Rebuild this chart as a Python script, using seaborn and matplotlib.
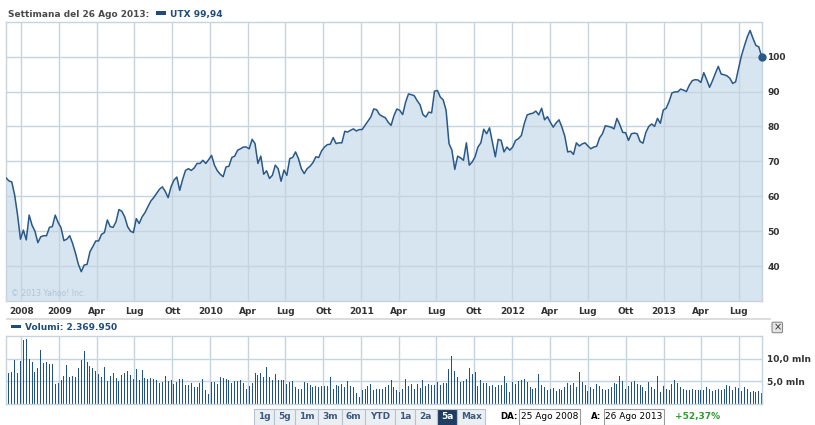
import numpy as np
import pandas as pd
import matplotlib
matplotlib.use("Agg")
import matplotlib.pyplot as plt
from matplotlib.patches import Rectangle, FancyBboxPatch
import seaborn as sns

# ---------------- data ----------------
price = [
    65.3, 64.4, 64.1, 60.3, 54.6, 47.7, 50.3, 47.5, 54.6, 51.7,
    50.0, 46.7, 48.4, 48.7, 48.7, 51.1, 51.3, 54.6, 52.5, 51.0,
    47.3, 47.7, 48.7, 46.5, 43.7, 40.5, 38.4, 40.3, 40.5, 44.1,
    45.6, 47.2, 47.2, 49.1, 49.6, 53.2, 51.3, 51.1, 52.7, 56.2,
    55.7, 54.1, 51.3, 50.0, 49.6, 53.6, 52.2, 54.1, 55.3, 57.0,
    58.6, 59.6, 60.8, 62.0, 62.7, 61.4, 59.6, 62.7, 64.6, 65.5,
    61.7, 64.8, 67.4, 67.9, 67.4,
    68.1, 69.4, 69.4, 70.3, 69.4, 70.5, 71.7, 68.9, 67.3, 66.3,
    65.6, 68.4, 68.6, 71.1, 71.5, 73.2, 73.6, 74.1, 74.1, 73.6,
    76.3, 75.1, 69.4, 71.5, 66.3, 67.3, 65.1, 66.0, 68.9, 67.9,
    64.3, 67.5, 66.0, 70.8, 71.1, 72.7, 70.8, 67.9, 66.5, 67.9,
    68.6, 69.6, 71.3, 71.1, 73.0, 74.1, 74.8, 74.9, 76.8, 75.1,
    75.3, 75.3, 78.6, 78.4, 78.9, 79.3, 78.7, 79.1, 79.1, 80.3,
    81.5, 82.7, 85.0, 84.8, 83.4, 82.9,
    82.5, 81.2, 80.3, 83.1, 85.0, 84.6, 83.4, 86.9, 89.3, 89.1,
    88.8, 87.4, 86.2, 83.4, 82.7, 84.1, 83.9, 90.1, 90.3, 88.4,
    87.6, 84.6, 75.1, 73.2, 67.7, 71.5, 71.0, 70.3, 75.3, 68.9,
    69.8, 71.3, 74.1, 75.3, 79.2, 77.9, 79.6, 75.5, 71.3, 76.3,
    76.0, 72.7, 74.1, 73.2, 74.1, 76.0, 76.5, 77.4, 80.8, 83.3,
    83.6, 83.8, 84.4, 83.3, 85.2, 81.9, 82.8, 81.2, 79.8, 81.0,
    81.9, 79.8, 77.2, 72.7, 72.9, 72.0,
    75.3, 74.4, 75.0, 75.3, 74.4, 73.6, 74.1, 74.3, 76.7, 77.9,
    80.2, 80.0, 79.8, 79.3, 82.3, 80.5, 78.3, 78.2, 76.0, 77.9,
    78.1, 77.9, 75.7, 75.2, 78.3, 80.0, 80.7, 80.0, 82.3, 80.9,
    84.7, 85.2, 87.1, 89.6, 89.9, 89.9, 90.7, 90.4, 90.0, 91.8,
    93.1, 93.4, 93.3, 92.6, 95.4, 93.4, 91.2, 93.1, 95.2, 97.2,
    95.0, 94.8, 94.5, 93.8, 92.3, 92.8, 96.6, 100.2, 103.0, 105.6,
    107.5, 105.2, 103.2, 102.8, 99.94,
]

volume_mln = [
    3.7, 6.7, 6.9, 9.7, 6.7, 9.5, 14.2, 14.4, 9.9, 9.3,
    7.0, 7.9, 11.9, 8.9, 9.2, 8.7, 8.7, 4.3, 4.5, 5.2,
    6.2, 8.5, 5.8, 6.2, 6.0, 7.8, 9.7, 11.6, 9.3, 8.4,
    7.9, 7.3, 6.6, 5.8, 8.1, 4.9, 6.1, 6.7, 5.6, 5.0,
    6.25, 6.76, 7.2, 6.25, 5.5, 7.6, 5.15, 7.35, 5.7, 5.5,
    5.7, 5.5, 5.15, 4.55, 4.8, 6.1, 4.9, 5.15, 4.25, 4.8,
    5.5, 5.5, 4.05, 4.05, 4.55, 3.7, 3.7, 4.55, 5.5, 2.95,
    2.2, 4.8, 4.8, 4.4, 6.0, 5.7, 5.5, 5.15, 4.55, 4.9,
    4.9, 5.15, 4.55, 3.3, 3.8, 4.55, 6.75, 6.25, 6.75, 5.9,
    8.2, 5.9, 5.3, 6.6, 5.15, 5.3, 5.15, 4.4, 4.8, 4.9,
    3.7, 3.25, 3.3, 4.8, 4.55, 4.2, 3.7, 3.8, 3.7, 3.8,
    3.8, 3.8, 5.9, 3.3, 4.05, 3.8, 4.25, 3.7, 5.0, 3.8,
    3.7, 2.35, 1.5, 3.1, 3.3, 3.8, 4.4, 3.1, 3.15, 3.15,
    3.3, 3.7, 4.05, 5.15, 3.7, 3.1,
    2.6, 3.3, 5.5, 3.9, 4.25, 3.3, 4.25, 3.55, 5.15, 4.0,
    4.25, 4.05, 4.05, 4.7, 4.05, 4.65, 4.65, 7.7, 10.45, 7.15,
    5.9, 4.85, 4.9, 5.5, 7.85, 6.45, 7.0, 3.8, 5.15, 4.65,
    4.55, 3.8, 4.05, 3.7, 4.05, 4.05, 6.05, 4.55, 2.45, 4.7,
    4.25, 5.0, 5.3, 5.45, 4.7, 3.6, 3.3, 3.45, 6.6, 4.2,
    3.7, 3.1, 3.3, 3.45, 2.8, 3.3, 3.1, 3.7, 4.55, 4.2,
    4.55, 3.7, 7.0, 4.7, 4.05, 2.8, 3.7, 3.3, 4.25, 4.0,
    3.3, 3.1, 3.3, 3.7, 4.55, 4.4, 6.05, 5.0, 3.3, 3.8,
    4.8, 4.9, 4.4, 4.05, 3.7, 2.8, 4.8, 3.7, 3.3, 6.05,
    2.6, 3.8, 3.3, 2.95, 4.4, 5.15, 4.55, 3.7, 3.3, 2.95,
    2.95, 3.3, 2.95, 2.95, 3.1, 2.95, 3.7, 3.3, 2.8, 3.1,
    3.3, 2.95, 3.3, 4.05, 3.8, 2.95, 3.7, 3.45, 2.8, 3.7,
    3.3, 2.6, 2.8, 2.6, 2.8, 2.37,
]

x_tick_dates = pd.date_range("2008-10-01", "2013-07-01", freq="QS")
x_tick_labels = ["2008", "2009", "Apr", "Lug", "Ott", "2010", "Apr", "Lug", "Ott",
                 "2011", "Apr", "Lug", "Ott", "2012", "Apr", "Lug", "Ott",
                 "2013", "Apr", "Lug"]
price_ticks = [40, 50, 60, 70, 80, 90, 100]
vol_ticks = [5, 10]
vol_tick_labels = ["5,0 mln", "10,0 mln"]
range_buttons = ["1g", "5g", "1m", "3m", "6m", "YTD", "1a", "2a", "5a", "Max"]
selected_button = "5a"

start_date = pd.Timestamp("2008-08-25")
end_date = pd.Timestamp("2013-08-26")
price_dates = pd.date_range(end=end_date, periods=len(price), freq="7D")
vol_dates = pd.date_range(end=end_date, periods=len(volume_mln), freq="7D")
df_price = pd.DataFrame({"date": price_dates, "price": price})
df_vol = pd.DataFrame({"date": vol_dates, "volume": volume_mln})

# ---------------- style ----------------
sns.set_style("white")
plt.rcParams["font.family"] = ["DejaVu Sans"]

LINE = "#28598a"
BAR = "#1f5288"
FILL = "#d6e5f0"
GRID = "#c6d4df"
TXT = "#333333"
NAVY = "#1f4c7a"
FS = 6.5

W, H = 815, 425
fig = plt.figure(figsize=(W / 100, H / 100), dpi=100)

AX_L, AX_R = 6, 761.7


def rect(l, t, r, b):
    return [l / W, 1 - b / H, (r - l) / W, (b - t) / H]


ax = fig.add_axes(rect(AX_L, 21.7, AX_R, 301))
axv = fig.add_axes(rect(AX_L, 336, AX_R, 403.5))

# ---- price panel ----
ax.fill_between(df_price["date"], df_price["price"], 30, color=FILL, lw=0, zorder=1)
sns.lineplot(data=df_price, x="date", y="price", ax=ax, color=LINE, lw=1.1, zorder=3)
ax.plot(df_price["date"].iloc[-1], df_price["price"].iloc[-1], "o", ms=5,
        color=LINE, zorder=4, clip_on=False)
ax.set_xlim(start_date, end_date)
ax.set_ylim(30, 110)
ax.set_xticks(x_tick_dates)
ax.set_xticklabels(x_tick_labels)
ax.set_yticks(price_ticks)
ax.yaxis.tick_right()
ax.set_axisbelow(False)
ax.grid(True, color=GRID, lw=1)
ax.set_xlabel("")
ax.set_ylabel("")
ax.tick_params(axis="x", length=0, labelsize=FS, labelcolor=TXT, pad=4)
ax.tick_params(axis="y", length=0, labelsize=FS, labelcolor=TXT, pad=4)
for s in ax.spines.values():
    s.set_color(GRID)
    s.set_linewidth(1)
for lbl in ax.get_xticklabels() + ax.get_yticklabels():
    lbl.set_fontweight("bold")

# ---- volume panel (1-px bars) ----
one_px_days = (end_date - start_date).days / (AX_R - AX_L)
axv.bar(df_vol["date"], df_vol["volume"], width=one_px_days, color=BAR, lw=0,
        zorder=2, antialiased=False, snap=True)
axv.set_xlim(start_date, end_date)
axv.set_ylim(0, 15)
axv.set_xticks(x_tick_dates)
axv.set_xticklabels([])
axv.set_yticks(vol_ticks)
axv.set_yticklabels(vol_tick_labels)
axv.yaxis.tick_right()
axv.set_axisbelow(True)
axv.grid(True, color=GRID, lw=1)
axv.tick_params(axis="both", length=0, labelsize=FS, labelcolor=TXT, pad=4)
for s in axv.spines.values():
    s.set_color(GRID)
    s.set_linewidth(1)
for lbl in axv.get_yticklabels():
    lbl.set_fontweight("bold")

# ---- overlay (headers, controls) ----
ov = fig.add_axes([0, 0, 1, 1])
ov.set_xlim(0, W)
ov.set_ylim(H, 0)
ov.axis("off")
ov.patch.set_alpha(0)

ov.text(8, 14, "Settimana del 26 Ago 2013:", fontsize=FS, fontweight="bold",
        color="#4a4a4a", va="center", ha="left")
ov.add_patch(Rectangle((155.7, 11), 10, 3.6, color=NAVY, lw=0))
ov.text(170, 14, "UTX 99,94", fontsize=FS, fontweight="bold", color=NAVY,
        va="center", ha="left")

ov.text(11, 294, "\u00a9 2013 Yahoo! Inc.", fontsize=5.6, color="#b3c4d3",
        va="center", ha="left")

ov.add_patch(Rectangle((6, 318.3), 765, 1.8, color="#dddddd", lw=0))
ov.add_patch(Rectangle((11, 324.7), 10, 3.6, color=NAVY, lw=0))
ov.text(25, 327.5, "Volumi: 2.369.950", fontsize=FS, fontweight="bold",
        color=NAVY, va="center", ha="left")

ov.add_patch(FancyBboxPatch((772, 322.2), 10.5, 10.5, boxstyle="round,pad=0,rounding_size=1.2",
                            fc="#e4e4e4", ec="#8a8a8a", lw=0.8))
ov.text(777.3, 327.3, "\u00d7", fontsize=7, color="#333333", va="center", ha="center")

edges = [254, 274.3, 295, 318.3, 341.7, 365, 395, 415, 436.7, 457.3, 485]
for i, lab in enumerate(range_buttons):
    x0, x1 = edges[i], edges[i + 1]
    sel = lab == selected_button
    ov.add_patch(Rectangle((x0, 408.5), x1 - x0, 17,
                           fc="#1f3d63" if sel else "#eaeff4",
                           ec="#b7c3cf", lw=0.8))
    ov.text((x0 + x1) / 2, 416.3, lab, fontsize=FS, fontweight="bold",
            color="white" if sel else "#3d5a80", va="center", ha="center")

ov.text(500.5, 416.3, "DA:", fontsize=6.2, fontweight="bold", color="black",
        va="center", ha="left")
ov.add_patch(Rectangle((519.3, 408.5), 60.7, 16, fc="white", ec="#9a9a9a", lw=0.8))
ov.text(549.6, 416.3, "25 Ago 2008", fontsize=FS, color="black", va="center", ha="center")
ov.text(591, 416.3, "A:", fontsize=6.2, fontweight="bold", color="black",
        va="center", ha="left")
ov.add_patch(Rectangle((604, 408.5), 60, 16, fc="white", ec="#9a9a9a", lw=0.8))
ov.text(634, 416.3, "26 Ago 2013", fontsize=FS, color="black", va="center", ha="center")
ov.text(675, 416.3, "+52,37%", fontsize=FS, fontweight="bold", color="#2e9a2e",
        va="center", ha="left")

fig.savefig("out.png", dpi=100)
